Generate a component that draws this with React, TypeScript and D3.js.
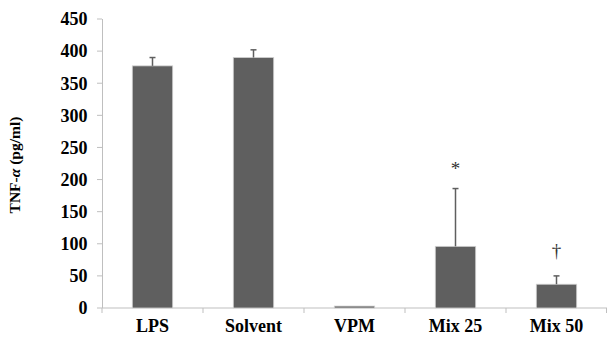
import React from "react";
import * as d3 from "d3";

const categories = ["LPS", "Solvent", "VPM", "Mix 25", "Mix 50"];
const values = [377, 390, 3, 96, 37];
const errors = [13, 12, 0, 90, 13];
const marks = ["", "", "", "*", "†"];
const yTicks = [0, 50, 100, 150, 200, 250, 300, 350, 400, 450];

export default function App() {
  const W = 607, H = 338;
  const left = 102, right = 607, top = 19, bottom = 308;
  const x = d3.scaleBand<string>().domain(categories).range([left, right]).paddingInner(0.6).paddingOuter(0.3);
  const band = d3.scaleBand<string>().domain(categories).range([left, right]);
  const y = d3.scaleLinear().domain([0, 450]).range([bottom, top]);
  const font = '"Liberation Serif", "DejaVu Serif", serif';
  const barColor = "#5f5f5f";
  const axisColor = "#bfbfbf";
  return (
    <svg width={W} height={H} style={{ position: "absolute", left: 0, top: 0, fontFamily: font }}>
      <rect width={W} height={H} fill="#fff" />
      <line x1={left + 0.5} x2={left + 0.5} y1={top} y2={bottom} stroke={axisColor} strokeWidth={1} />
      {yTicks.map((t) => (
        <g key={t}>
          <line x1={left - 5} x2={left} y1={y(t)} y2={y(t)} stroke={axisColor} />
          <text x={87.5} y={y(t)} dy="0.35em" textAnchor="end" fontSize={18} fontWeight="bold" fill="#000" style={{ fontFamily: font }}>
            {t}
          </text>
        </g>
      ))}
      <line x1={left} x2={right} y1={bottom} y2={bottom} stroke={axisColor} />
      {categories.map((c, i) => (
        <line key={"t" + i} x1={(band(c) as number)} x2={(band(c) as number)} y1={bottom} y2={bottom + 5} stroke={axisColor} />
      ))}
      <line x1={right - 0.5} x2={right - 0.5} y1={bottom} y2={bottom + 5} stroke={axisColor} />
      {categories.map((c, i) => {
        const bx = x(c) as number;
        const bw = x.bandwidth();
        const cx = bx + bw / 2;
        const errTop = y(values[i] + errors[i]);
        return (
          <g key={c}>
            <rect x={bx} y={y(values[i])} width={bw} height={bottom - y(values[i])} fill={barColor} stroke="#d0d0d0" strokeWidth={0.8} />
            {errors[i] > 0 && (
              <g stroke={barColor} strokeWidth={1.5}>
                <line x1={cx} x2={cx} y1={y(values[i])} y2={errTop} />
                <line x1={cx - 3} x2={cx + 3} y1={errTop} y2={errTop} />
              </g>
            )}
            {marks[i] && (
              <text x={cx} y={errTop - (marks[i] === "*" ? 14 : 19)} textAnchor="middle" fontSize={19} fill="#333" style={{ fontFamily: font }}>
                {marks[i]}
              </text>
            )}
            <text x={(band(c) as number) + band.bandwidth() / 2} y={332} textAnchor="middle" fontSize={18} fontWeight="bold" fill="#000" style={{ fontFamily: font }}>
              {c}
            </text>
          </g>
        );
      })}
      <text transform={`translate(20,${165}) rotate(-90)`} textAnchor="middle" fontSize={15.5} fontWeight="bold" fill="#000" style={{ fontFamily: font }}>
        TNF-<tspan fontStyle="italic">α</tspan> (pg/ml)
      </text>
    </svg>
  );
}
